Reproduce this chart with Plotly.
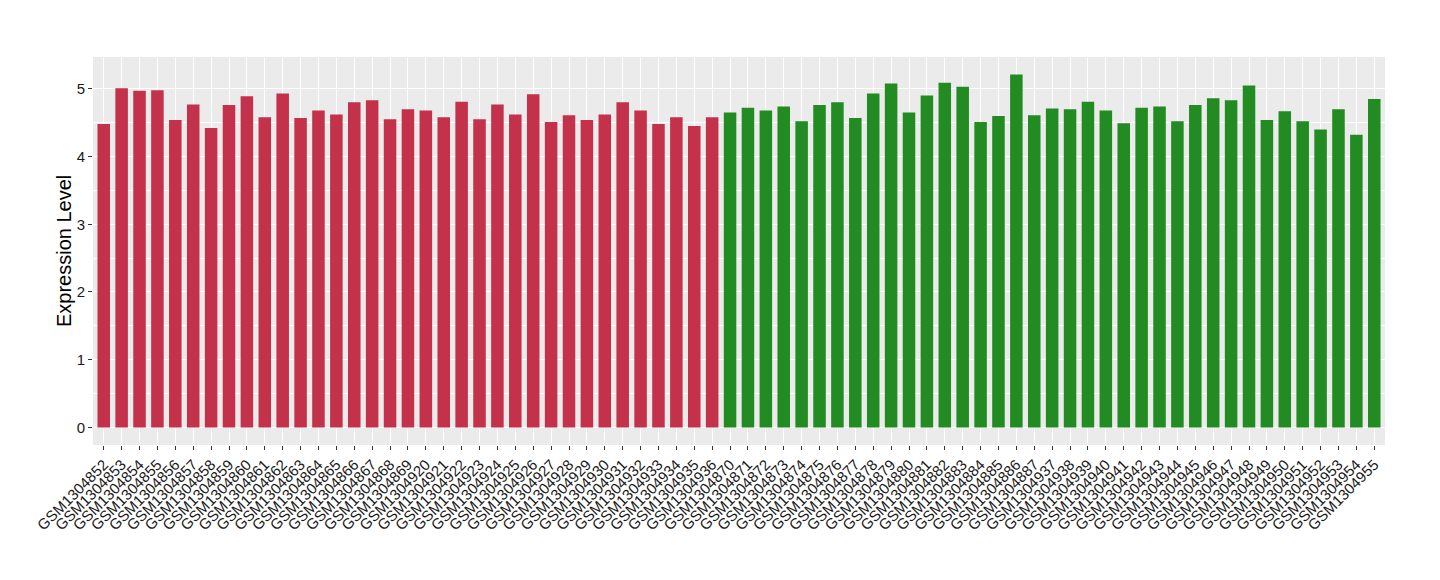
import plotly.graph_objects as go

red_samples = ["GSM1304852", "GSM1304853", "GSM1304854", "GSM1304855", "GSM1304856", "GSM1304857",
               "GSM1304858", "GSM1304859", "GSM1304860", "GSM1304861", "GSM1304862", "GSM1304863",
               "GSM1304864", "GSM1304865", "GSM1304866", "GSM1304867", "GSM1304868", "GSM1304869",
               "GSM1304920", "GSM1304921", "GSM1304922", "GSM1304923", "GSM1304924", "GSM1304925",
               "GSM1304926", "GSM1304927", "GSM1304928", "GSM1304929", "GSM1304930", "GSM1304931",
               "GSM1304932", "GSM1304933", "GSM1304934", "GSM1304935", "GSM1304936"]
red_values = [4.48, 5.01, 4.97, 4.98, 4.54, 4.77, 4.42, 4.76, 4.89, 4.58, 4.93, 4.57,
              4.68, 4.62, 4.80, 4.83, 4.55, 4.70,
              4.68, 4.58, 4.81, 4.55, 4.77, 4.62, 4.92, 4.51, 4.61, 4.54, 4.62, 4.80,
              4.68, 4.48, 4.58, 4.45, 4.58]

green_samples = ["GSM1304870", "GSM1304871", "GSM1304872", "GSM1304873", "GSM1304874", "GSM1304875",
                 "GSM1304876", "GSM1304877", "GSM1304878", "GSM1304879", "GSM1304880", "GSM1304881",
                 "GSM1304882", "GSM1304883", "GSM1304884", "GSM1304885", "GSM1304886", "GSM1304887",
                 "GSM1304937", "GSM1304938", "GSM1304939", "GSM1304940", "GSM1304941", "GSM1304942",
                 "GSM1304943", "GSM1304944", "GSM1304945", "GSM1304946", "GSM1304947", "GSM1304948",
                 "GSM1304949", "GSM1304950", "GSM1304951", "GSM1304952", "GSM1304953", "GSM1304954",
                 "GSM1304955"]
green_values = [4.65, 4.72, 4.68, 4.74, 4.52, 4.76, 4.80, 4.57, 4.93, 5.08, 4.65, 4.90,
                5.09, 5.03, 4.51, 4.60, 5.21, 4.61,
                4.71, 4.70, 4.81, 4.68, 4.49, 4.72, 4.74, 4.52, 4.76, 4.86, 4.83, 5.05,
                4.54, 4.67, 4.52, 4.40, 4.70, 4.32, 4.85]

y_ticks = [0, 1, 2, 3, 4, 5]
y_title = "Expression Level"

RED = "#C3314A"
GREEN = "#228B22"

all_samples = red_samples + green_samples

fig = go.Figure()
fig.add_trace(go.Bar(x=red_samples, y=red_values, marker=dict(color=RED, line=dict(width=0)),
                     width=0.7, showlegend=False))
fig.add_trace(go.Bar(x=green_samples, y=green_values, marker=dict(color=GREEN, line=dict(width=0)),
                     width=0.7, showlegend=False))

fig.add_annotation(
    text=y_title, textangle=-90,
    xref="paper", yref="paper", x=0, y=0.5,
    xanchor="center", yanchor="middle", xshift=-29,
    showarrow=False,
    font=dict(size=20, color="black", family="Liberation Sans, Arial, sans-serif"),
)

fig.update_layout(
    width=1440, height=580,
    barmode="overlay",
    paper_bgcolor="white",
    plot_bgcolor="#EBEBEB",
    margin=dict(l=85, r=63, t=49, b=143),
    font=dict(family="Liberation Sans, Arial, sans-serif", color="#1a1a1a"),
    xaxis=dict(
        type="category",
        categoryorder="array",
        categoryarray=all_samples,
        tickmode="array",
        tickvals=all_samples,
        ticktext=all_samples,
        range=[-0.6, len(all_samples) - 0.4],
        tickangle=-45,
        tickfont=dict(size=15, color="#1a1a1a"),
        showgrid=True, gridcolor="white", gridwidth=1.1,
        ticks="outside", ticklen=4, tickcolor="#333333", tickwidth=1,
        zeroline=False, showline=False,
        automargin=False,
    ),
    yaxis=dict(
        range=[-0.26, 5.47],
        tickvals=y_ticks,
        tickfont=dict(size=15, color="#1a1a1a"),
        showgrid=True, gridcolor="white", gridwidth=1.1,
        minor=dict(dtick=0.5, showgrid=True, gridcolor="white", gridwidth=0.5, tick0=0.5),
        ticks="outside", ticklen=4, tickcolor="#333333", tickwidth=1,
        zeroline=False, showline=False,
        automargin=False,
    ),
)

fig.write_html("out.html")
